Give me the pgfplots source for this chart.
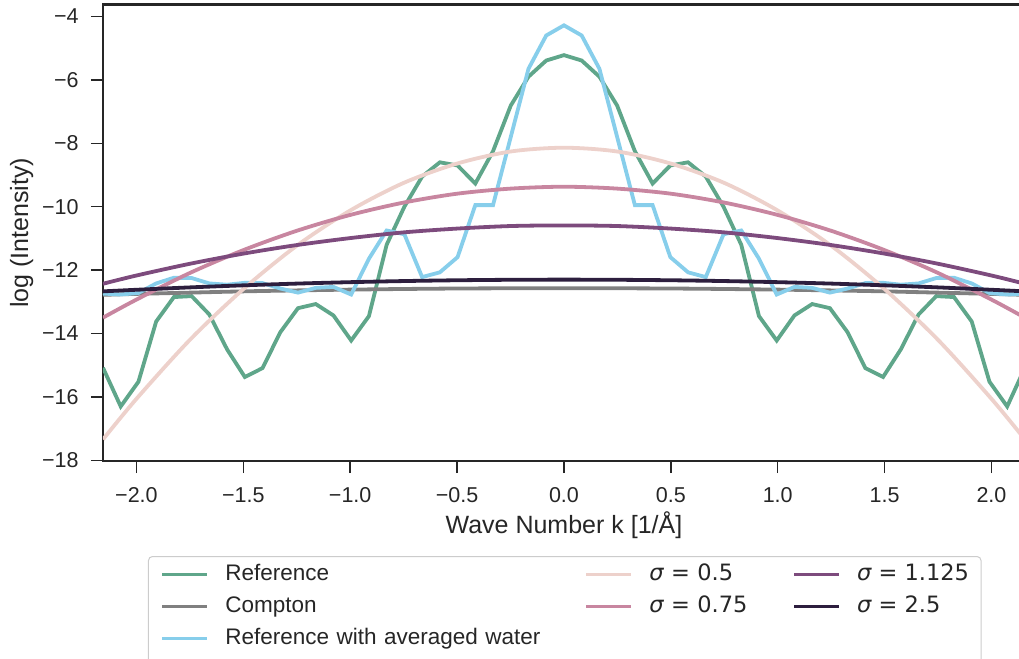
\documentclass[border=0pt]{standalone}
\usepackage{fontspec}
\setmainfont{Liberation Sans}
\newfontfamily\dejavu{DejaVu Sans}
\usepackage{pgfplots}
\usepackage{pgfplotstable}
\pgfplotsset{compat=1.18}

\definecolor{axcol}{RGB}{38,38,38}
\definecolor{refgreen}{RGB}{95,166,138}
\definecolor{comptongray}{RGB}{128,128,128}
\definecolor{waterblue}{RGB}{135,206,235}
\definecolor{sA}{RGB}{237,209,203}
\definecolor{sB}{RGB}{200,134,160}
\definecolor{sC}{RGB}{125,75,125}
\definecolor{sD}{RGB}{45,30,62}

% k, reference, reference with averaged water
\pgfplotstableread{
k ref water
-2.1564 -15.08 -12.74
-2.0735 -16.30 -12.77
-1.9906 -15.52 -12.72
-1.9076 -13.62 -12.42
-1.8247 -12.85 -12.24
-1.7417 -12.82 -12.25
-1.6588 -13.40 -12.42
-1.5759 -14.50 -12.46
-1.4929 -15.37 -12.40
-1.4100 -15.09 -12.41
-1.3270 -13.96 -12.58
-1.2441 -13.20 -12.71
-1.1612 -13.07 -12.56
-1.0782 -13.43 -12.53
-0.9953 -14.22 -12.77
-0.9123 -13.45 -11.64
-0.8294 -11.20 -10.75
-0.7465 -10.00 -10.87
-0.6635 -9.05 -12.22
-0.5806 -8.60 -12.07
-0.4976 -8.70 -11.59
-0.4147 -9.27 -9.95
-0.3318 -8.25 -9.95
-0.2488 -6.81 -7.80
-0.1659 -5.90 -5.65
-0.0829 -5.39 -4.60
0.0000 -5.22 -4.28
0.0829 -5.39 -4.60
0.1659 -5.90 -5.65
0.2488 -6.81 -7.80
0.3318 -8.25 -9.95
0.4147 -9.27 -9.95
0.4976 -8.70 -11.59
0.5806 -8.60 -12.07
0.6635 -9.05 -12.22
0.7465 -10.00 -10.87
0.8294 -11.20 -10.75
0.9123 -13.45 -11.64
0.9953 -14.22 -12.77
1.0782 -13.43 -12.53
1.1612 -13.07 -12.56
1.2441 -13.20 -12.71
1.3270 -13.96 -12.58
1.4100 -15.09 -12.41
1.4929 -15.37 -12.40
1.5759 -14.50 -12.46
1.6588 -13.40 -12.42
1.7417 -12.82 -12.25
1.8247 -12.85 -12.24
1.9076 -13.62 -12.42
1.9906 -15.52 -12.72
2.0735 -16.30 -12.77
2.1564 -15.08 -12.74
}\refdata

% smooth curves
\pgfplotstableread{
k s05 s075 s1125 s25 compton
-2.1564 -17.34 -13.50 -12.43 -12.67 -12.78
-2.00 -16.06 -12.93 -12.17 -12.62 -12.75
-1.75 -14.20 -12.09 -11.80 -12.545 -12.71
-1.50 -12.60 -11.37 -11.48 -12.48 -12.67
-1.25 -11.23 -10.76 -11.21 -12.425 -12.64
-1.00 -10.12 -10.26 -10.99 -12.38 -12.615
-0.75 -9.25 -9.87 -10.81 -12.345 -12.595
-0.50 -8.64 -9.59 -10.69 -12.32 -12.58
-0.25 -8.26 -9.43 -10.61 -12.305 -12.573
0.00 -8.14 -9.37 -10.59 -12.30 -12.57
0.25 -8.26 -9.43 -10.61 -12.305 -12.573
0.50 -8.64 -9.59 -10.69 -12.32 -12.58
0.75 -9.25 -9.87 -10.81 -12.345 -12.595
1.00 -10.12 -10.26 -10.99 -12.38 -12.615
1.25 -11.23 -10.76 -11.21 -12.425 -12.64
1.50 -12.60 -11.37 -11.48 -12.48 -12.67
1.75 -14.20 -12.09 -11.80 -12.545 -12.71
2.00 -16.06 -12.93 -12.17 -12.62 -12.75
2.1564 -17.34 -13.50 -12.43 -12.67 -12.78
}\gaussdata

\begin{document}
\begin{tikzpicture}
\begin{axis}[
    scale only axis,
    width=460.95pt, height=228.3pt,
    xmin=-2.1564, xmax=2.1564,
    ymin=-18.02, ymax=-3.62,
    axis line style={draw=axcol, line width=1.25pt},
    every tick/.style={draw=axcol, line width=0.75pt},
    major tick length=6pt, tick align=outside,
    xtick pos=bottom, ytick pos=left,
    xtick={-2,-1.5,...,2},
    xticklabels={−2.0,−1.5,−1.0,−0.5,0.0,0.5,1.0,1.5,2.0},
    ytick={-18,-16,...,-4},
    yticklabels={−18,−16,−14,−12,−10,−8,−6,−4},
    ticklabel style={font=\fontsize{10.75}{12}\selectfont, text=axcol, inner sep=0pt},
    every x tick label/.style={anchor=base, yshift=-14.5pt},
    every y tick label/.style={anchor=east, xshift=-6pt},
    xlabel={Wave Number k [1/Å]},
    ylabel={log (Intensity)},
    every axis x label/.style={at={(axis description cs:0.5,0)}, anchor=base, yshift=-36pt, font=\fontsize{12.5}{15}\selectfont, text=axcol},
    every axis y label/.style={at={(axis description cs:-0.0881,0.5)}, rotate=90, anchor=center, font=\fontsize{12.5}{15}\selectfont, text=axcol},
    every axis plot/.append style={line width=1.9pt},
    legend columns=3,
    legend cell align=left,
    legend image code/.code={\draw[#1] (0pt,3pt) -- (22.5pt,3pt); \path[draw=none] (0pt,3pt) -- (31.5pt,3pt);},
    legend style={
        at={(0.0488,-0.2081)}, anchor=north west,
        draw=black!20, line width=0.5pt, rounded corners=2pt,
        inner xsep=6pt, inner ysep=0pt,
        row sep=0pt, column sep=0pt,
        font=\fontsize{11.25}{13}\selectfont, text=axcol,
        nodes={inner sep=0pt, anchor=base west, text height=12pt, text depth=4pt, align=left},
        /tikz/column 2/.style={nodes={text width=179.5pt}},
        /tikz/column 4/.style={nodes={text width=71.5pt}},
        /tikz/row 3/.style={nodes={text depth=12pt}},
    },
]
\addplot[refgreen, forget plot] table[x=k, y=ref] {\refdata};
\addplot[comptongray, smooth, forget plot] table[x=k, y=compton] {\gaussdata};
\addplot[waterblue, forget plot] table[x=k, y=water] {\refdata};
\addplot[sA, smooth, forget plot] table[x=k, y=s05] {\gaussdata};
\addplot[sB, smooth, forget plot] table[x=k, y=s075] {\gaussdata};
\addplot[sC, smooth, forget plot] table[x=k, y=s1125] {\gaussdata};
\addplot[sD, smooth, forget plot] table[x=k, y=s25] {\gaussdata};

\addlegendimage{refgreen, line width=1.9pt}
\addlegendentry{Reference}
\addlegendimage{sA, line width=1.9pt}
\addlegendentry{{\dejavu\itshape σ}{\dejavu\ =\ 0.5}}
\addlegendimage{sC, line width=1.9pt}
\addlegendentry{{\dejavu\itshape σ}{\dejavu\ =\ 1.125}}
\addlegendimage{comptongray, line width=1.9pt}
\addlegendentry{Compton}
\addlegendimage{sB, line width=1.9pt}
\addlegendentry{{\dejavu\itshape σ}{\dejavu\ =\ 0.75}}
\addlegendimage{sD, line width=1.9pt}
\addlegendentry{{\dejavu\itshape σ}{\dejavu\ =\ 2.5}}
\addlegendimage{waterblue, line width=1.9pt}
\addlegendentry{Reference with averaged water}
\addlegendimage{empty legend}
\addlegendentry{}
\addlegendimage{empty legend}
\addlegendentry{}
\end{axis}
\pgfresetboundingbox
\useasboundingbox (-51.5pt,-99pt) rectangle (458pt,230.5pt);
\end{tikzpicture}
\end{document}
